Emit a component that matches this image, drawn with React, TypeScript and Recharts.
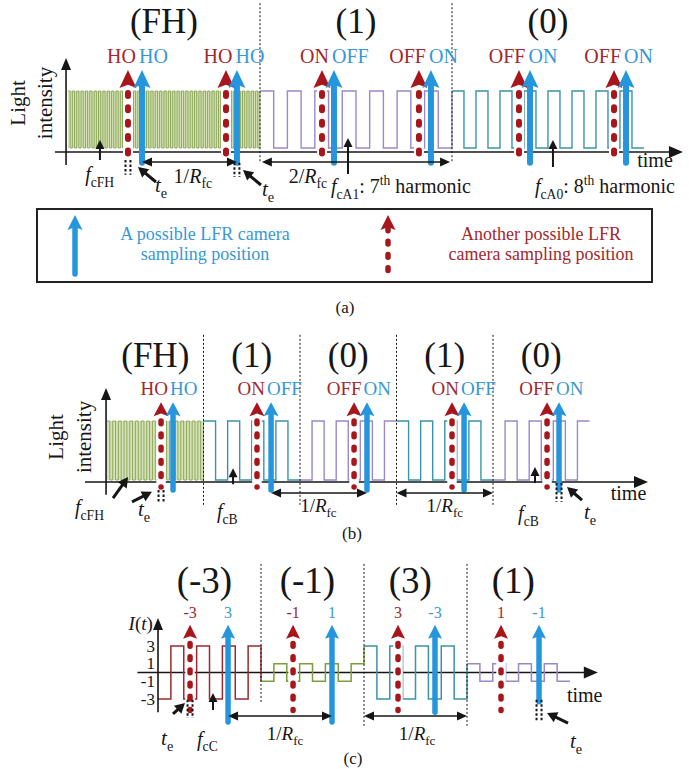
import React from "react";
import { ComposedChart, Line, XAxis, YAxis, ReferenceLine, ReferenceDot, ReferenceArea } from "recharts";

type Part = [string, string?];

const SERIF = '"Liberation Serif", "Times New Roman", Times, serif';
const RED = "#a8161c";
const BLUE = "#2596dd";
const RED_TXT = "#a3282c";
const BLUE_TXT = "#3798d6";
const INK = "#161616";
const GREEN_FILL = "#d5e2b8";
const GREEN_LINE = "#8fa95c";
const PURPLE = "#9a88c9";
const TEAL = "#3a94a7";
const DARK_RED = "#9b2a30";
const OLIVE = "#7a9f3c";
const W = 689;

// ---------- panel (a) ----------
const A_TITLES = ["(FH)", "(1)", "(0)"];
const A_BOUNDS = [0, 2, 4, 6];
const A_CYCLES = [44, 7, 8];
const A_START_HIGH = [true, true, true];
const A_RED_T = [0.625, 1.646, 2.646, 3.656, 4.698, 5.688];
const A_BLUE_T = [0.771, 1.76, 2.771, 3.781, 4.813, 5.813];
const A_RED_LABELS = ["HO", "HO", "ON", "OFF", "OFF", "OFF"];
const A_BLUE_LABELS = ["HO", "HO", "OFF", "ON", "ON", "ON"];

// ---------- panel (b) ----------
const B_TITLES = ["(FH)", "(1)", "(0)", "(1)", "(0)"];
const B_BOUNDS = [0, 1, 2, 3, 4, 5];
const B_CYCLES = [17, 4, 4, 4, 4];
const B_START_HIGH = [true, true, false, true, false];
const B_RED_T = [0.56, 1.554, 2.56, 3.575, 4.56];
const B_BLUE_T = [0.684, 1.7, 2.694, 3.7, 4.684];
const B_RED_LABELS = ["HO", "ON", "OFF", "ON", "OFF"];
const B_BLUE_LABELS = ["HO", "OFF", "ON", "OFF", "ON"];

// ---------- panel (c) ----------
const C_TITLES = ["(-3)", "(-1)", "(3)", "(1)"];
const C_BOUNDS = [0, 1, 2, 3, 4];
const C_CYCLES = [4, 4, 4, 4];
const C_AMPLITUDE = [3, 1, 3, 1];
const C_START_HIGH = [false, false, true, true];
const C_RED_T = [0.311, 1.311, 2.33, 3.33];
const C_BLUE_T = [0.68, 1.689, 2.689, 3.699];
const C_RED_LABELS = ["-3", "-1", "3", "1"];
const C_BLUE_LABELS = ["3", "1", "-3", "-1"];
const C_TICKS = [3, 1, -1, -3];

// text pieces
const FCFH: Part[] = [["f", "i"], ["cFH", "sub"]];
const TE: Part[] = [["t", "i"], ["e", "sub"]];
const R1: Part[] = [["1/"], ["R", "i"], ["fc", "sub"]];
const R2: Part[] = [["2/"], ["R", "i"], ["fc", "sub"]];
const FCA1: Part[] = [["f", "i"], ["cA1", "sub"], [": 7"], ["th", "sup"], [" harmonic"]];
const FCA0: Part[] = [["f", "i"], ["cA0", "sub"], [": 8"], ["th", "sup"], [" harmonic"]];
const FCB: Part[] = [["f", "i"], ["cB", "sub"]];
const FCC: Part[] = [["f", "i"], ["cC", "sub"]];
const IT: Part[] = [["I", "i"], ["("], ["t", "i"], [")"]];

// step table for one clock segment
function squareWave(t0: number, t1: number, cycles: number, lo: number, hi: number, startHigh: boolean, tail?: number) {
  const half = (t1 - t0) / (cycles * 2);
  const pts: { t: number; v: number }[] = [];
  for (let k = 0; k < cycles * 2; k++) {
    const high = (k % 2 === 0) === startHigh;
    pts.push({ t: t0 + k * half, v: high ? hi : lo });
  }
  pts.push({ t: t1, v: pts[pts.length - 1].v });
  if (tail !== undefined) pts.push({ t: t1, v: tail });
  return pts;
}

function rich(parts: Part[], size: number) {
  let cur = 0;
  return parts.map(([s, k], i) => {
    const small = k === "sub" || k === "sup";
    const target = k === "sub" ? size * 0.28 : k === "sup" ? -size * 0.4 : 0;
    const dy = target - cur;
    cur = target;
    return (
      <tspan key={i} dy={dy} fontSize={small ? size * 0.68 : size} fontStyle={k === "i" ? "italic" : "normal"}>
        {s}
      </tspan>
    );
  });
}

// ---------- shapes ----------
const sampleShape = (kind: string, hw: number, hh: number, sw: number) => (p: any) => {
  const x = p.x1;
  const top = Math.min(p.y1, p.y2);
  const bot = Math.max(p.y1, p.y2);
  const col = kind === "red" ? RED : BLUE;
  const head = (
    <polygon points={`${x},${top} ${x - hw},${top + hh} ${x},${top + hh * 0.82} ${x + hw},${top + hh}`} fill={col} />
  );
  if (kind === "blue") {
    return (
      <g>
        <line x1={x} y1={bot} x2={x} y2={top + hh * 0.8} stroke={BLUE} strokeWidth={sw} strokeLinecap="round" />
        {head}
      </g>
    );
  }
  return (
    <g>
      <line x1={x} y1={top + hh} x2={x} y2={bot + 2} stroke="#fff" strokeWidth={sw + 4} />
      <line
        x1={x}
        y1={top + hh + sw * 0.5 + 2}
        x2={x}
        y2={bot}
        stroke={RED}
        strokeWidth={sw}
        strokeLinecap="round"
        strokeDasharray={`${sw * 0.5} ${sw * 1.9}`}
      />
      {head}
    </g>
  );
};

const vAxisShape = (p: any) => {
  const x = p.x1;
  const top = Math.min(p.y1, p.y2);
  const bot = Math.max(p.y1, p.y2);
  return (
    <g>
      <line x1={x} y1={bot} x2={x} y2={top + 8} stroke={INK} strokeWidth={1.6} />
      <polygon points={`${x},${top} ${x - 5},${top + 12} ${x + 5},${top + 12}`} fill={INK} />
    </g>
  );
};

const tAxisShape = (p: any) => {
  const y = p.y1;
  const l = Math.min(p.x1, p.x2);
  const r = Math.max(p.x1, p.x2);
  return (
    <g>
      <line x1={l} y1={y} x2={r - 8} y2={y} stroke={INK} strokeWidth={1.6} />
      <polygon points={`${r},${y} ${r - 14},${y - 6} ${r - 14},${y + 6}`} fill={INK} />
    </g>
  );
};

const spanShape = (p: any) => {
  const y = p.y1;
  const l = Math.min(p.x1, p.x2);
  const r = Math.max(p.x1, p.x2);
  return (
    <g>
      <line x1={l + 4} y1={y} x2={r - 4} y2={y} stroke={INK} strokeWidth={1.3} />
      <polygon points={`${l},${y} ${l + 10},${y - 4.5} ${l + 10},${y + 4.5}`} fill={INK} />
      <polygon points={`${r},${y} ${r - 10},${y - 4.5} ${r - 10},${y + 4.5}`} fill={INK} />
    </g>
  );
};

const boxShape = (p: any) => {
  const x = p.x1;
  const top = Math.min(p.y1, p.y2);
  const bot = Math.max(p.y1, p.y2);
  return (
    <g stroke={INK} strokeWidth={2} strokeDasharray="2.5 2">
      <line x1={x - 2.5} y1={top} x2={x - 2.5} y2={bot} />
      <line x1={x + 2.5} y1={top} x2={x + 2.5} y2={bot} />
    </g>
  );
};

const pointerShape = (dx: number, dy: number, bold: boolean) => (p: any) => {
  const { cx, cy } = p;
  const len = Math.hypot(dx, dy);
  const ux = -dx / len;
  const uy = -dy / len;
  const hl = bold ? 10 : 9;
  const hw = bold ? 5.5 : 4.5;
  const bx = cx - ux * hl;
  const by = cy - uy * hl;
  const px = -uy;
  const py = ux;
  return (
    <g>
      <line x1={cx + dx} y1={cy + dy} x2={bx + ux} y2={by + uy} stroke={INK} strokeWidth={bold ? 3 : 2} />
      <polygon points={`${cx},${cy} ${bx + px * hw},${by + py * hw} ${bx - px * hw},${by - py * hw}`} fill={INK} />
    </g>
  );
};

const textShape = (parts: Part[], size: number, color: string, anchor: string, dx = 0, rotate = false) => (p: any) => (
  <text
    x={p.cx + dx}
    y={p.cy}
    fontFamily={SERIF}
    fontSize={size}
    fill={color}
    textAnchor={anchor}
    dominantBaseline={rotate ? "central" : undefined}
    transform={rotate ? `rotate(-90 ${p.cx + dx} ${p.cy})` : undefined}
  >
    {rich(parts, size)}
  </text>
);

// ---------- element helpers ----------
const txt = (key: string, t: number, v: number, parts: Part[], size: number, color = INK, anchor = "middle", dx = 0, rotate = false) => (
  <ReferenceDot key={key} x={t} y={v} r={0} ifOverflow="visible" shape={textShape(parts, size, color, anchor, dx, rotate)} />
);
const vseg = (key: string, t: number, v0: number, v1: number, shape: any, dash?: string) => (
  <ReferenceLine
    key={key}
    segment={[{ x: t, y: v0 }, { x: t, y: v1 }]}
    ifOverflow="visible"
    stroke={INK}
    strokeWidth={1}
    strokeDasharray={dash}
    shape={shape}
  />
);
const hseg = (key: string, t0: number, t1: number, v: number, shape: any) => (
  <ReferenceLine key={key} segment={[{ x: t0, y: v }, { x: t1, y: v }]} ifOverflow="visible" shape={shape} />
);
const pointer = (key: string, t: number, v: number, dx: number, dy: number, bold: boolean) => (
  <ReferenceDot key={key} x={t} y={v} r={0} ifOverflow="visible" shape={pointerShape(dx, dy, bold)} />
);
const waveLine = (key: string, pts: { t: number; v: number }[], color: string, w = 1.4) => (
  <Line key={key} data={pts} dataKey="v" type="stepAfter" stroke={color} strokeWidth={w} dot={false} activeDot={false} isAnimationActive={false} />
);

const Frame = ({ height, xDom, yDom, children }: any) => (
  <ComposedChart width={W} height={height} margin={{ top: 0, right: 0, bottom: 0, left: 0 }}>
    <XAxis type="number" dataKey="t" domain={xDom} allowDataOverflow hide />
    <YAxis type="number" domain={yDom} allowDataOverflow hide />
    {children}
  </ComposedChart>
);

// ---------- panel (a) ----------
function PanelA() {
  const colors = [GREEN_LINE, PURPLE, TEAL];
  const waves = A_TITLES.map((_, i) =>
    squareWave(A_BOUNDS[i], A_BOUNDS[i + 1], A_CYCLES[i], 0, 1, A_START_HIGH[i], i < A_TITLES.length - 1 ? (A_START_HIGH[i + 1] ? 1 : 0) : undefined)
  );
  return (
    <Frame height={205} xDom={[-0.708, 6.469]} yDom={[-1.0, 2.596]}>
      <ReferenceArea x1={A_BOUNDS[0]} x2={A_BOUNDS[1]} y1={0} y2={1} fill={GREEN_FILL} fillOpacity={1} stroke="none" ifOverflow="visible" />
      {waves.map((pts, i) => waveLine(`w${i}`, pts, colors[i], i === 0 ? 1 : 1.4))}
      {A_BOUNDS.slice(1, -1).map((t, i) => vseg(`s${i}`, t, 2.54, -0.25, undefined, "2 2"))}
      {vseg("yax", -0.02, -0.3, 1.58, vAxisShape)}
      {hseg("tax", -0.135, 6.406, -0.07, tAxisShape)}
      {A_TITLES.map((s, i) => txt(`ti${i}`, (A_BOUNDS[i] + A_BOUNDS[i + 1]) / 2, 2.02, [[s]], 35))}
      {A_RED_T.map((t, i) => vseg(`r${i}`, t, 1.37, -0.21, sampleShape("red", 8.5, 18, 6)))}
      {A_BLUE_T.map((t, i) => vseg(`b${i}`, t, 1.37, -0.26, sampleShape("blue", 8.5, 18, 6)))}
      {A_RED_T.map((t, i) => txt(`rl${i}`, (t + A_BLUE_T[i]) / 2, 1.49, [[A_RED_LABELS[i]]], 20, RED_TXT, "end", 1))}
      {A_BLUE_T.map((t, i) => txt(`bl${i}`, (A_RED_T[i] + t) / 2, 1.49, [[A_BLUE_LABELS[i]]], 20, BLUE_TXT, "start", 4))}
      {vseg("bx1", A_RED_T[0], -0.21, -0.47, boxShape)}
      {vseg("bx2", A_BLUE_T[1], -0.26, -0.51, boxShape)}
      {hseg("sp1", A_BLUE_T[0], A_BLUE_T[1], -0.246, spanShape)}
      {hseg("sp2", 2.02, 3.98, -0.246, spanShape)}
      {pointer("p1", 0.333, 0.14, 0, 20, false)}
      {pointer("p2", 0.729, -0.333, 18, 15, true)}
      {pointer("p3", 1.823, -0.386, 18, 15, true)}
      {pointer("p4", 2.917, 0.175, 0, 36, false)}
      {pointer("p5", 5.052, 0.14, 0, 27, false)}
      {txt("n1", 0.33, -0.58, FCFH, 20)}
      {txt("n2", 0.906, -0.77, TE, 21, INK, "start")}
      {txt("n3", 2.02, -0.84, TE, 21, INK, "start")}
      {txt("n4", 1.3, -0.61, R1, 20)}
      {txt("n5", 2.5, -0.61, R2, 20)}
      {txt("n6", 2.74, -0.79, FCA1, 20, INK, "start")}
      {txt("n7", 4.865, -0.79, FCA0, 20, INK, "start")}
      {txt("n8", 5.93, -0.33, [["time"]], 20, INK, "start")}
      {txt("y1", -0.52, 0.79, [["Light"]], 21, INK, "middle", 0, true)}
      {txt("y2", -0.24, 0.79, [["intensity"]], 21, INK, "middle", 0, true)}
    </Frame>
  );
}

// ---------- panel (b) ----------
function PanelB() {
  const colors = [GREEN_LINE, TEAL, PURPLE, TEAL, PURPLE];
  const waves = B_TITLES.map((_, i) =>
    squareWave(B_BOUNDS[i], B_BOUNDS[i + 1], B_CYCLES[i], 0, 1, B_START_HIGH[i], i < B_TITLES.length - 1 ? (B_START_HIGH[i + 1] ? 1 : 0) : undefined)
  );
  return (
    <Frame height={210} xDom={[-1.109, 6.031]} yDom={[-0.847, 2.712]}>
      <ReferenceArea x1={B_BOUNDS[0]} x2={B_BOUNDS[1]} y1={0} y2={1} fill={GREEN_FILL} fillOpacity={1} stroke="none" ifOverflow="visible" />
      {waves.map((pts, i) => waveLine(`w${i}`, pts, colors[i], i === 0 ? 1 : 1.4))}
      {B_BOUNDS.slice(1, -1).map((t, i) => vseg(`s${i}`, t, 2.46, -0.42, undefined, "2 2"))}
      {vseg("yax", -0.01, -0.25, 1.56, vAxisShape)}
      {hseg("tax", -0.228, 5.606, -0.034, tAxisShape)}
      {B_TITLES.map((s, i) => txt(`ti${i}`, (B_BOUNDS[i] + B_BOUNDS[i + 1]) / 2, 1.915, [[s]], 35))}
      {B_RED_T.map((t, i) => vseg(`r${i}`, t, 1.32, -0.12, sampleShape("red", 7.5, 14, 5.5)))}
      {B_BLUE_T.map((t, i) => vseg(`b${i}`, t, 1.32, -0.17, sampleShape("blue", 7.5, 14, 5.5)))}
      {B_RED_T.map((t, i) => txt(`rl${i}`, (t + B_BLUE_T[i]) / 2, 1.44, [[B_RED_LABELS[i]]], 19, RED_TXT, "end", 1))}
      {B_BLUE_T.map((t, i) => txt(`bl${i}`, (B_RED_T[i] + t) / 2, 1.44, [[B_BLUE_LABELS[i]]], 19, BLUE_TXT, "start", 3))}
      {vseg("bx1", B_RED_T[0], -0.17, -0.39, boxShape)}
      {vseg("bx2", B_BLUE_T[4], -0.05, -0.37, boxShape)}
      {hseg("sp1", B_BLUE_T[1], B_BLUE_T[2], -0.22, spanShape)}
      {hseg("sp2", 3, 4, -0.22, spanShape)}
      {pointer("p1", 0.218, 0.05, -15, 21, true)}
      {pointer("p2", 0.466, -0.2, -20, 10, true)}
      {pointer("p3", 1.306, 0.2, 0, 16, false)}
      {pointer("p4", 4.435, 0.22, 0, 16, false)}
      {pointer("p5", 4.767, -0.12, 15, 13, true)}
      {txt("n1", -0.332, -0.576, FCFH, 20, INK, "start")}
      {txt("n2", 0.32, -0.61, TE, 21, INK, "start")}
      {txt("n3", 1.14, -0.644, FCB, 20, INK, "start")}
      {txt("n4", 2.19, -0.54, R1, 19)}
      {txt("n5", 3.5, -0.54, R1, 19)}
      {txt("n6", 4.26, -0.68, FCB, 20, INK, "start")}
      {txt("n7", 4.943, -0.66, TE, 21, INK, "start")}
      {txt("n8", 5.22, -0.34, [["time"]], 20, INK, "start")}
      {txt("y1", -0.528, 0.73, [["Light"]], 21, INK, "middle", 0, true)}
      {txt("y2", -0.238, 0.73, [["intensity"]], 21, INK, "middle", 0, true)}
    </Frame>
  );
}

// ---------- panel (c) ----------
function PanelC() {
  const colors = [DARK_RED, OLIVE, TEAL, PURPLE];
  const waves = C_TITLES.map((_, i) => {
    const a = C_AMPLITUDE[i];
    const next = i < C_TITLES.length - 1 ? (C_START_HIGH[i + 1] ? C_AMPLITUDE[i + 1] : -C_AMPLITUDE[i + 1]) : undefined;
    return squareWave(C_BOUNDS[i], C_BOUNDS[i + 1], C_CYCLES[i], -a, a, C_START_HIGH[i], next);
  });
  const sepBottoms = [-3.5, -6.2, -6.2];
  const blueBottoms = [-5.6, -5.6, -4.5, -3.3];
  return (
    <Frame height={224} xDom={[-1.534, 5.155]} yDom={[-10.93, 14.44]}>
      {hseg("tax", -0.2, 4.27, 0, tAxisShape)}
      {waves.map((pts, i) => waveLine(`w${i}`, pts, colors[i], 1.5))}
      {C_BOUNDS.slice(1, -1).map((t, i) => vseg(`s${i}`, t, 12.3, sepBottoms[i], undefined, "2 2"))}
      {vseg("yax", 0, -4.5, 6.17, vAxisShape)}
      {C_TICKS.map((v, i) => txt(`tk${i}`, -0.03, v - 0.65, [[String(v)]], 17, INK, "end"))}
      {txt("it", -0.05, 4.81, IT, 19, INK, "end")}
      {C_TITLES.map((s, i) => txt(`ti${i}`, (C_BOUNDS[i] + C_BOUNDS[i + 1]) / 2 - 0.05, 9.0, [[s]], 37))}
      {C_RED_T.map((t, i) => vseg(`r${i}`, t, 5.4, -4.3, sampleShape("red", 7, 14, 5.5)))}
      {C_BLUE_T.map((t, i) => vseg(`b${i}`, t, 5.4, blueBottoms[i], sampleShape("blue", 7, 14, 5.5)))}
      {C_RED_T.map((t, i) => txt(`rl${i}`, t, 6.17, [[C_RED_LABELS[i]]], 16, RED_TXT))}
      {C_BLUE_T.map((t, i) => txt(`bl${i}`, t, 6.17, [[C_BLUE_LABELS[i]]], 16, BLUE_TXT))}
      {vseg("bx1", C_RED_T[0], -3.1, -5.15, boxShape)}
      {vseg("bx2", C_BLUE_T[3], -3.1, -5.6, boxShape)}
      {hseg("sp1", C_BLUE_T[0], C_BLUE_T[1], -4.93, spanShape)}
      {hseg("sp2", 2, 3, -4.93, spanShape)}
      {pointer("p1", 0.262, -3.45, -12, 11, true)}
      {pointer("p2", 0.534, -2.32, 0, 17, false)}
      {pointer("p3", 3.777, -4.59, 21, 10, true)}
      {txt("n1", 0.03, -8.2, TE, 21, INK, "start")}
      {txt("n2", 0.379, -8.3, FCC, 20, INK, "start")}
      {txt("n3", 1.233, -7.64, R1, 19)}
      {txt("n4", 2.515, -7.64, R1, 19)}
      {txt("n5", 4.0, -8.55, TE, 21, INK, "start")}
      {txt("n6", 3.97, -3.34, [["time"]], 20, INK, "start")}
    </Frame>
  );
}

function Overlay() {
  return (
    <svg width={W} height={769} style={{ position: "absolute", left: 0, top: 0, pointerEvents: "none" }} fontFamily={SERIF}>
      <rect x={37} y={209} width={615} height={73} fill="none" stroke="#222" strokeWidth={2} />
      <line x1={75} y1={274} x2={75} y2={228} stroke={BLUE} strokeWidth={5.5} strokeLinecap="round" />
      <polygon points="75,215 67.5,230 75,227 82.5,230" fill={BLUE} />
      <line x1={388} y1={228} x2={388} y2={275} stroke={RED} strokeWidth={5.5} strokeLinecap="round" strokeDasharray="2.75 10.5" />
      <polygon points="388,215 380.5,230 388,227 395.5,230" fill={RED} />
      <text x={205} y={240} fontSize={18} fill={BLUE_TXT} textAnchor="middle">A possible LFR camera</text>
      <text x={205} y={260} fontSize={18} fill={BLUE_TXT} textAnchor="middle">sampling position</text>
      <text x={541} y={240} fontSize={18} fill={RED_TXT} textAnchor="middle">Another possible LFR</text>
      <text x={541} y={260} fontSize={18} fill={RED_TXT} textAnchor="middle">camera sampling position</text>
      <text x={345} y={313} fontSize={17} fill={INK} textAnchor="middle">(a)</text>
      <text x={352} y={539} fontSize={17} fill={INK} textAnchor="middle">(b)</text>
      <text x={353} y={764} fontSize={17} fill={INK} textAnchor="middle">(c)</text>
    </svg>
  );
}

export default function App() {
  return (
    <div style={{ position: "absolute", left: 0, top: 0, width: W, height: 769, background: "#fff", overflow: "hidden" }}>
      <div style={{ position: "absolute", left: 0, top: 0 }}>
        <PanelA />
      </div>
      <div style={{ position: "absolute", left: 0, top: 320 }}>
        <PanelB />
      </div>
      <div style={{ position: "absolute", left: 0, top: 545 }}>
        <PanelC />
      </div>
      <Overlay />
    </div>
  );
}
